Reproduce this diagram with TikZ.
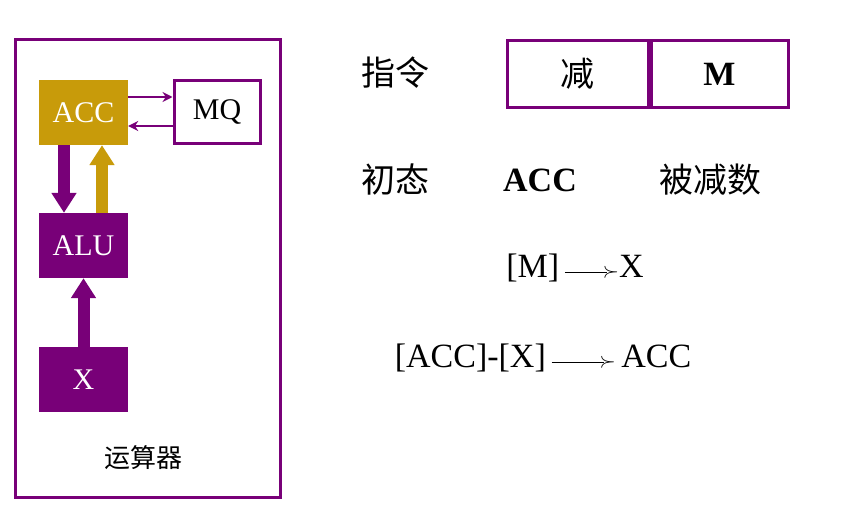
\documentclass[tikz,border=0pt]{standalone}
\usepackage{fontspec}
\setmainfont{Liberation Serif}
\newfontfamily\cjk{Noto Sans CJK SC}
\usetikzlibrary{arrows.meta,positioning}
\definecolor{pur}{RGB}{120,0,120}
\definecolor{gold}{RGB}{200,155,10}
\begin{document}
\begin{tikzpicture}[x=1pt,y=-1pt]
    \tikzstyle{blk} = [minimum width=89pt, minimum height=65pt, inner sep=0pt, text=white, font=\fontsize{30}{30}\selectfont]
    \tikzstyle{fat} = [line width=12pt,-{Triangle[length=20pt,width=24pt]}]
    \tikzstyle{thin} = [line width=2.5pt,pur,-{Stealth[length=10pt,width=10pt]}]
    \tikzstyle{big} = [font=\fontsize{34}{34}\selectfont]
    \useasboundingbox (0,0) rectangle (849,511);
    \draw[pur, line width=3pt] (15,40) rectangle (280,497);
        \node (acc) [blk,fill=gold] at (83.5,112.5) {ACC};
        \node (mq) [blk,draw=pur,line width=3pt,text=black,minimum width=86pt,minimum height=62pt] at (217,112) {MQ};
        \node (alu) [blk,fill=pur] at (83.5,245.5) {ALU};
        \node (x) [blk,fill=pur] at (83.5,379.5) {X};
        \node (unit) [font=\cjk\fontsize{26}{26}\selectfont] at (143,458) {运算器};
        \draw[fat,pur] (acc.south -| 64,0) -- (alu.north -| 64,0);
        \draw[fat,gold] (alu.north -| 102,0) -- (acc.south -| 102,0);
        \draw[fat,pur] (x.north) -- (alu.south);
        \draw[thin] (acc.east |- 0,97) -- (mq.west |- 0,97);
        \draw[thin] (mq.west |- 0,126) -- (acc.east |- 0,126);
        % instruction format
        \node (ins) [font=\cjk\fontsize{34}{34}\selectfont] at (395,73) {指令};
        \node (op) [draw=pur,line width=3pt,minimum width=141pt,minimum height=67pt,font=\cjk\fontsize{34}{34}\selectfont] at (577.5,74) {减};
        \node (adr) [draw=pur,line width=3pt,minimum width=137pt,minimum height=67pt,font=\bfseries\fontsize{34}{34}\selectfont,right=0pt of op] {M};
        \node (init) [font=\cjk\fontsize{34}{34}\selectfont] at (395,180) {初态};
        \node (reg) [font=\bfseries\fontsize{34}{34}\selectfont] at (540,180) {ACC};
        \node (val) [font=\cjk\fontsize{34}{34}\selectfont] at (710,180) {被减数};
        \node (s1) [big] at (575,268) {[M]\,\raisebox{0.3ex}{\rule{42pt}{1.2pt}}\hspace{-4pt}{\fontsize{20}{20}\selectfont$\succ$}X};
        \node (s2) [big] at (543,358) {[ACC]-[X]\,\raisebox{0.3ex}{\rule{52pt}{1.2pt}}\hspace{-4pt}{\fontsize{20}{20}\selectfont$\succ$}\,ACC};
    \end{tikzpicture}
\end{document}
